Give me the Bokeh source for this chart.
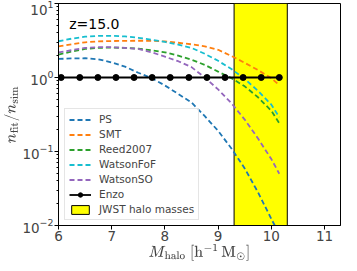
from bokeh.plotting import figure
from bokeh.models import Range1d, Legend, LegendItem, Label, LogTicker, FixedTicker
from bokeh.embed import file_html
from bokeh.resources import INLINE

# ---- data ----
mass = [6.0, 6.25, 6.5, 6.75, 7.0, 7.25, 7.5, 7.75, 8.0, 8.25, 8.5, 8.75,
        9.0, 9.25, 9.5, 9.75, 10.0, 10.15]
ps = [1.78, 1.81, 1.82, 1.76, 1.60, 1.40, 1.16, 0.98, 0.78, 0.60, 0.46, 0.30,
      0.19, 0.11, 0.059, 0.028, 0.0123, 0.0076]
smt = [2.63, 2.82, 2.99, 3.08, 3.11, 3.13, 3.14, 3.13, 3.07, 2.95, 2.81, 2.63,
       2.37, 1.95, 1.58, 1.26, 0.98, 0.79]
reed2007 = [2.04, 2.24, 2.43, 2.51, 2.54, 2.51, 2.45, 2.34, 2.19, 1.97, 1.74, 1.48,
            1.20, 0.98, 0.76, 0.54, 0.355, 0.24]
watson_fof = [3.09, 3.35, 3.56, 3.66, 3.66, 3.59, 3.44, 3.24, 3.02, 2.79, 2.51, 2.09,
              1.68, 1.30, 0.955, 0.66, 0.43, 0.29]
watson_so = [2.19, 2.34, 2.51, 2.57, 2.57, 2.51, 2.43, 2.19, 1.91, 1.66, 1.38, 1.0,
             0.69, 0.45, 0.27, 0.15, 0.079, 0.050]
enzo_mass = [6.05, 6.40, 6.74, 7.08, 7.42, 7.76, 8.10, 8.45, 8.79, 9.13, 9.47, 9.81, 10.15]
enzo_ratio = [1.0] * 13
jwst_lo = 9.3
jwst_hi = 10.3
series_names = ["PS", "SMT", "Reed2007", "WatsonFoF", "WatsonSO"]
series_vals = [ps, smt, reed2007, watson_fof, watson_so]
series_colors = ["#1f77b4", "#ff7f0e", "#2ca02c", "#17becf", "#9467bd"]
x_ticks = [6, 7, 8, 9, 10, 11]
redshift_label = "z=15.0"
x_label = r"\(M_{\mathrm{halo}}\ [\mathrm{h}^{-1}\,\mathrm{M}_{\odot}]\)"
y_label = r"\(n_{\mathrm{fit}}/n_{\mathrm{sim}}\)"

FONT = "DejaVu Sans"

p = figure(width=341, height=263, output_backend="svg", toolbar_location=None,
           x_range=Range1d(6, 11.3), y_range=Range1d(0.01, 10), y_axis_type="log",
           min_border_left=52, min_border_right=1, min_border_top=3, min_border_bottom=36)
p.outline_line_color = "black"
p.outline_line_width = 1
p.xgrid.visible = False
p.ygrid.visible = False
p.background_fill_color = "white"
p.border_fill_color = "white"

# JWST band
band = p.quad(left=[jwst_lo], right=[jwst_hi], bottom=[0.01], top=[10],
              fill_color="#ffff00", line_color="black", line_width=1)

items = []
for name, vals, col in zip(series_names, series_vals, series_colors):
    r = p.line(mass, vals, line_color=col, line_width=1.8, line_dash="5 3")
    items.append(LegendItem(label=name, renderers=[r]))

rl = p.line(enzo_mass, enzo_ratio, line_color="black", line_width=1.8)
rs = p.scatter(enzo_mass, enzo_ratio, size=6, fill_color="black", line_color="black")
items.append(LegendItem(label="Enzo", renderers=[rl, rs]))
items.append(LegendItem(label="JWST halo masses", renderers=[band]))

legend = Legend(items=items, location=(6, 5), orientation="vertical")
legend.label_text_font = FONT
legend.label_text_font_size = "10.5px"
legend.glyph_width = 22
legend.glyph_height = 11
legend.label_height = 11
legend.label_standoff = 8
legend.spacing = 3
legend.padding = 4
legend.margin = 0
legend.border_line_color = "#cccccc"
legend.border_line_width = 1
legend.background_fill_alpha = 0.8
p.add_layout(legend, "center")

p.add_layout(Label(x=6.2, y=4.1, text=redshift_label, text_font=FONT,
                   text_font_size="14px", text_color="black"))

# axes
p.xaxis.ticker = FixedTicker(ticks=x_ticks)
p.yaxis.ticker = LogTicker(num_minor_ticks=10)
for ax in (p.xaxis[0], p.yaxis[0]):
    ax.major_label_text_font = FONT
    ax.major_label_text_font_size = "13.5px"
    ax.axis_label_text_font = FONT
    ax.axis_label_text_font_size = "13px"
    ax.axis_label_text_font_style = "normal"
    ax.major_tick_in = 0
    ax.major_tick_out = 4
    ax.minor_tick_in = 0
    ax.minor_tick_out = 2
    ax.major_label_standoff = 1
    ax.axis_label_standoff = 0
    ax.axis_line_color = "black"
p.xaxis.minor_tick_line_color = None
p.xaxis.axis_label = x_label
p.yaxis.axis_label = y_label

open("out.html", "w").write(file_html(p, INLINE))
